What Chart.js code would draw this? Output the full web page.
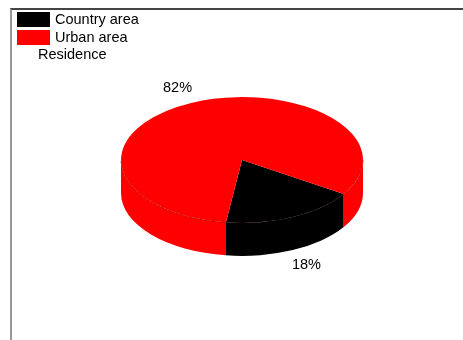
<!DOCTYPE html>
<html>
<head>
<meta charset="utf-8">
<script src="https://cdn.jsdelivr.net/npm/chart.js@4.4.1/dist/chart.umd.min.js"></script>
<style>
    body { margin: 0; background: #fff; }
    #wrap { position: relative; width: 463px; height: 340px; overflow: hidden; font-family: "Liberation Sans", Arial, sans-serif; }
    #frame { position: absolute; left: 10px; top: 8px; right: 0; bottom: -4px; border-top: 2px solid #444; border-left: 2px solid #999; }
    #pieChart { position: absolute; left: 0; top: 0; }
    .item { position: absolute; left: 17px; height: 15px; font-size: 14.5px; line-height: 15px; color: #000; white-space: nowrap; }
    .swatch { position: absolute; left: 0; top: 0; width: 33px; height: 15px; }
    .item span { position: absolute; left: 38px; top: 0; }
    #legendTitle { position: absolute; left: 38px; top: 47px; font-size: 14.5px; line-height: 15px; color: #000; }
</style>
</head>
<body>
<div id="wrap">
    <div id="frame"></div>
    <canvas id="pieChart" width="463" height="340"></canvas>
    <div id="legend"></div>
    <div id="legendTitle"></div>
</div>
<script>
// chart data
const categories = ["Country area", "Urban area"];
const shares = [18, 82];
const sliceColors = ["#000000", "#ff0000"];
const pctLabels = ["18%", "82%"];
const legendTitle = "Residence";

document.addEventListener("DOMContentLoaded", () => {
    const tilt = 0.52;   // vertical squash of the top face
    const depth = 33;    // height of the side wall

    // legend built by hand, it sits in the corner of the frame
    const legend = document.getElementById("legend");
    categories.forEach((name, i) => {
        const item = document.createElement("div");
        item.className = "item";
        item.style.top = (12 + i * 18) + "px";
        item.innerHTML = `<div class="swatch" style="background:${sliceColors[i]}"></div><span>${name}</span>`;
        legend.appendChild(item);
    });
    document.getElementById("legendTitle").textContent = legendTitle;

    // draws the pie as a tilted cylinder
    const pie3d = {
        id: "pie3d",
        beforeDatasetsDraw(chart) {
            const ctx = chart.ctx;
            const arcs = chart.getDatasetMeta(0).data;
            if (!arcs.length) return;
            const cx = arcs[0].x, cy = arcs[0].y, r = arcs[0].outerRadius;
            const ry = r * tilt;

            arcs.forEach((arc, i) => {
                for (let k = -1; k <= 2; k++) {
                    const lo = Math.max(arc.startAngle, 2 * Math.PI * k);
                    const hi = Math.min(arc.endAngle, 2 * Math.PI * k + Math.PI);
                    if (hi <= lo) continue;
                    ctx.save();
                    ctx.beginPath();
                    ctx.ellipse(cx, cy, r, ry, 0, lo, hi, false);
                    ctx.ellipse(cx, cy + depth, r, ry, 0, hi, lo, true);
                    ctx.closePath();
                    ctx.fillStyle = sliceColors[i];
                    ctx.fill();
                    // thin rim line
                    ctx.beginPath();
                    ctx.ellipse(cx, cy, r, ry, 0, lo, hi, false);
                    ctx.strokeStyle = "rgba(60,0,0,0.7)";
                    ctx.lineWidth = 0.7;
                    ctx.setLineDash([3, 1]);
                    ctx.stroke();
                    ctx.restore();
                }
            });

            ctx.save();
            ctx.translate(cx, cy);
            ctx.scale(1, tilt);
            ctx.translate(-cx, -cy);
        },
        afterDatasetsDraw(chart) {
            const ctx = chart.ctx;
            ctx.restore();
            const arcs = chart.getDatasetMeta(0).data;
            if (!arcs.length) return;
            const cx = arcs[0].x, cy = arcs[0].y, r = arcs[0].outerRadius;
            const ry = r * tilt;

            ctx.save();
            ctx.font = '14.5px "Liberation Sans", Arial, sans-serif';
            ctx.fillStyle = "#000";
            ctx.textAlign = "center";
            ctx.textBaseline = "middle";
            arcs.forEach((arc, i) => {
                const mid = (arc.startAngle + arc.endAngle) / 2;
                const s = Math.sin(mid);
                const lx = cx + 1.27 * r * Math.cos(mid);
                const ly = cy + 1.26 * ry * s + (s > 0 ? depth : 0);
                ctx.fillText(pctLabels[i], lx, ly);
            });
            ctx.restore();
        }
    };

    new Chart(document.getElementById("pieChart"), {
        type: "pie",
        data: {
            labels: categories,
            datasets: [{
                data: shares,
                backgroundColor: sliceColors,
                borderWidth: 0
            }]
        },
        options: {
            responsive: false,
            animation: false,
            rotation: 122.8,
            radius: 121,
            layout: {
                padding: { left: 121, right: 100, top: 39, bottom: 59 }
            },
            plugins: {
                legend: { display: false },
                tooltip: { enabled: false }
            }
        },
        plugins: [pie3d]
    });
});
</script>
</body>
</html>
